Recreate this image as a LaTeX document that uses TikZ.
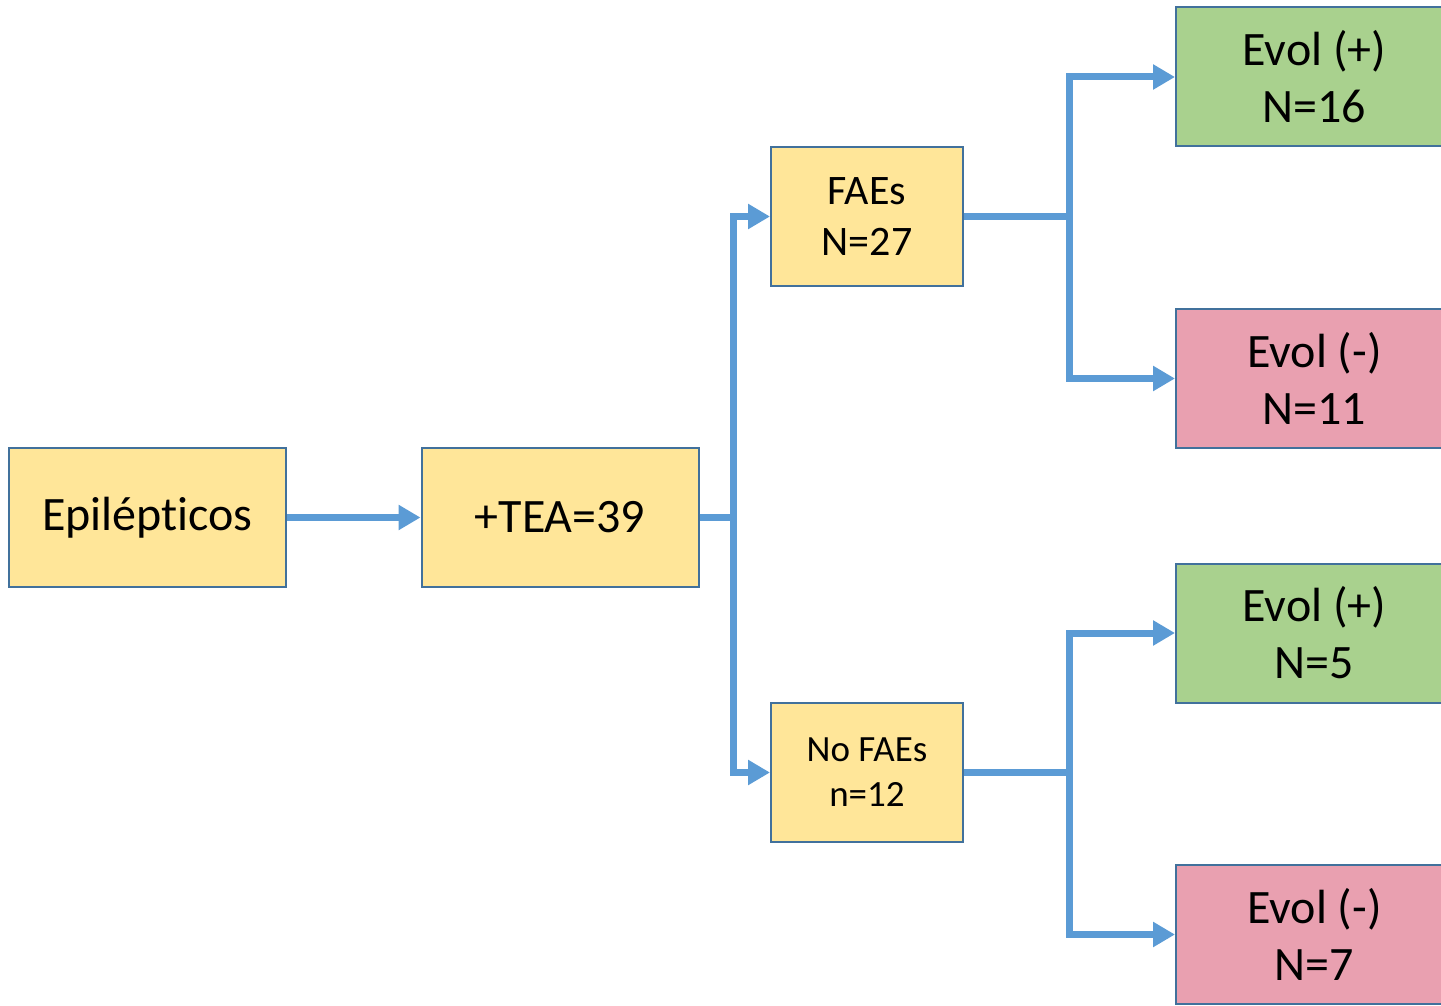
\documentclass[tikz,border=0pt]{standalone}
\usepackage{fontspec}
\setmainfont{Carlito}[Ligatures=NoCommon]
\usetikzlibrary{arrows.meta}
\definecolor{boxline}{RGB}{65,113,156}
\definecolor{flow}{RGB}{91,155,213}
\definecolor{amarillo}{RGB}{255,230,153}
\definecolor{verde}{RGB}{169,209,142}
\definecolor{rosa}{RGB}{233,160,176}
\tikzset{
  caja/.style={draw=boxline, line width=1pt, align=center, inner sep=0pt},
  grande/.style={caja, minimum width=138.5pt, minimum height=69.5pt, font=\fontsize{24}{28.5}\selectfont},
  media/.style={caja, minimum width=96pt, minimum height=69.5pt},
  enlace/.style={draw=flow, line width=3.5pt},
  flecha/.style={enlace, -{Triangle[length=11pt,width=12pt]}}
}

\begin{document}
\begin{tikzpicture}[x=0.5pt,y=0.5pt,yscale=-1,xscale=1]
\useasboundingbox (0,0) rectangle (1441,1006);

% cajas
\node [grande, fill=amarillo] (epil) at (147.5,517.5) {Epilépticos};
\node [grande, fill=amarillo] (tea) at (560,517.5) {+TEA=39};
\node [media, fill=amarillo, font=\fontsize{21}{25.5}\selectfont] (faes) at (867,216.5) {FAEs\\N=27};
\node [media, fill=amarillo, font=\fontsize{18.5}{22.5}\selectfont] (nofaes) at (867,772.5) {No FAEs\\n=12};
\node [grande, fill=verde] (evolA) at (1314.5,77) {Evol (+)\\N=16};
\node [grande, fill=rosa] (evolB) at (1314.5,378.5) {Evol (-)\\N=11};
\node [grande, fill=verde] (evolC) at (1314.5,633) {Evol (+)\\N=5};
\node [grande, fill=rosa] (evolD) at (1314.5,934.5) {Evol (-)\\N=7};

% puntos de ramificacion
\coordinate (r1) at (733,517.5);
\coordinate (r2) at (1069,216.5);
\coordinate (r3) at (1069,772.5);

% conectores
\draw [flecha] (epil) -- (tea);
\draw [enlace] (tea) -- (r1);
\draw [flecha] (r1) |- (faes);
\draw [flecha] (r1) |- (nofaes);
\draw [enlace] (faes) -- (r2);
\draw [flecha] (r2) |- (evolA);
\draw [flecha] (r2) |- (evolB);
\draw [enlace] (nofaes) -- (r3);
\draw [flecha] (r3) |- (evolC);
\draw [flecha] (r3) |- (evolD);

\end{tikzpicture}
\end{document}
